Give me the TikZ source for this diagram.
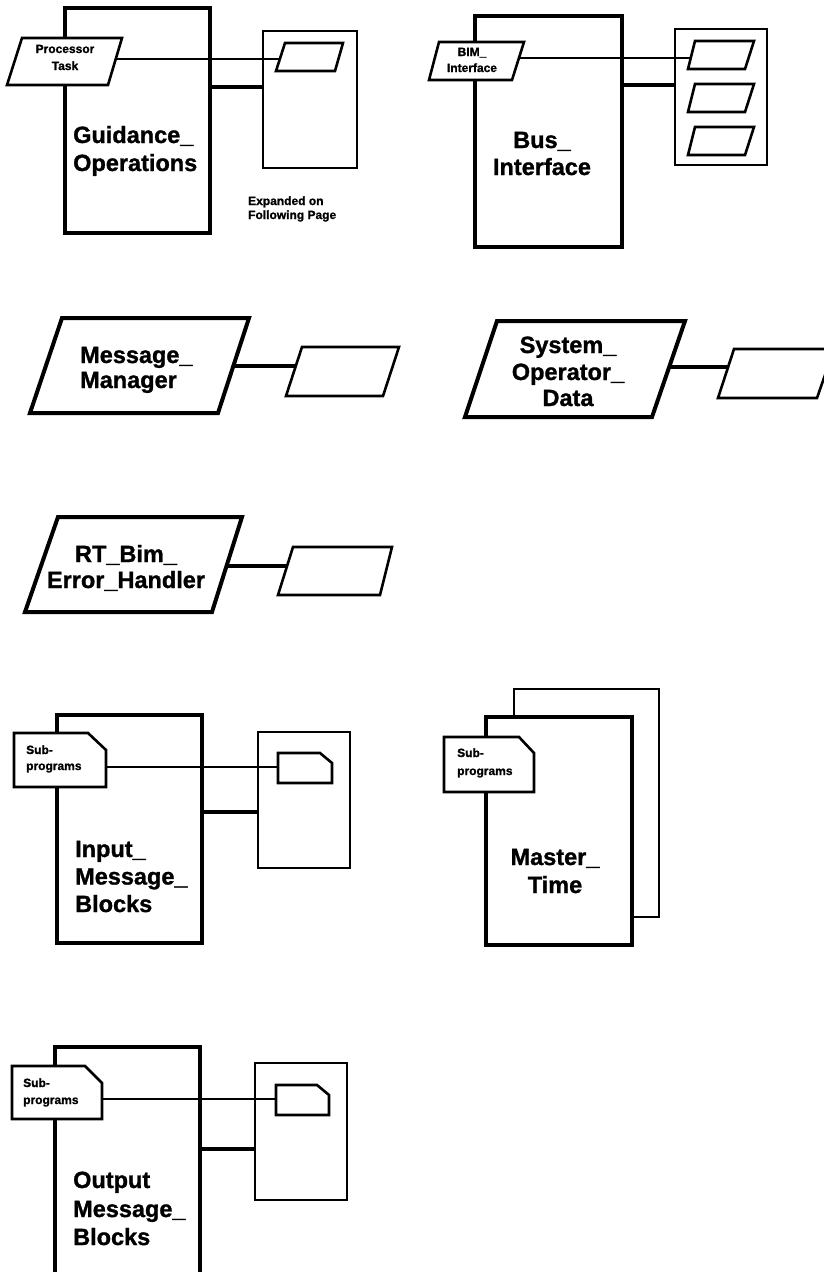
\documentclass[tikz,border=0pt]{standalone}
\usepackage{fontspec}
\setmainfont{Liberation Sans}[BoldFeatures={FakeBold=1.2}]
\begin{document}
\begin{tikzpicture}[x=1pt,y=-1pt,
  bigbox/.style={draw, line width=3.3pt, fill=white},
  subbox/.style={draw, line width=2.6pt, fill=white},
  backpage/.style={draw, line width=2.6pt},
  bigpara/.style={draw, line width=4pt, fill=white},
  smallpara/.style={draw, line width=2.6pt, fill=white},
  tabshape/.style={draw, line width=2.6pt, fill=white},
  thinlink/.style={line width=2.4pt},
  thicklink/.style={line width=3.8pt},
  biglbl/.style={font=\fontsize{23.5}{27}\selectfont\bfseries, inner sep=0pt},
  smalllbl/.style={font=\fontsize{12}{15}\selectfont\bfseries, inner sep=0pt}]
\useasboundingbox (0,0) rectangle (824,1272);
\clip (0,0) rectangle (824,1272);

% ---------- Guidance_Operations ----------
\path[bigbox] (65,8) rectangle (210,233);
\path[subbox] (263,31) rectangle (357,168);
\coordinate (guidE) at (210,87);
\coordinate (gexpW) at (263,87);
\draw[thicklink] (guidE) -- (gexpW);
\path[smallpara] (22,38) -- (122,38) -- (108,85) -- (7,85) -- cycle;
\path[smallpara] (285,43) -- (343,43) -- (335,71) -- (276,71) -- cycle;
\coordinate (ptE) at (116,59);
\coordinate (gparaW) at (280,59);
\draw[thinlink] (ptE) -- (gparaW);
\node[smalllbl, anchor=base] (pt1) at (65,53) {Processor};
\node[smalllbl, anchor=base] (pt2) at (65,70) {Task};
\node[biglbl, anchor=base west] (go1) at (73,143) {Guidance\_};
\node[biglbl, anchor=base west] (go2) at (73,171) {Operations};
\node[smalllbl, anchor=base west] (ex1) at (248,205) {Expanded on};
\node[smalllbl, anchor=base west] (ex2) at (248,219) {Following Page};

% ---------- Bus_Interface ----------
\path[bigbox] (475,16) rectangle (622,247);
\path[subbox] (675,29) rectangle (767,165);
\coordinate (busE) at (622,85);
\coordinate (bexpW) at (675,85);
\draw[thicklink] (busE) -- (bexpW);
\path[smallpara] (439,42) -- (524,42) -- (512,80) -- (429,80) -- cycle;
\path[smallpara] (695,41) -- (754,41) -- (745,69) -- (688,69) -- cycle;
\path[smallpara] (695,84) -- (754,84) -- (745,112) -- (688,112) -- cycle;
\path[smallpara] (695,127) -- (754,127) -- (745,155) -- (688,155) -- cycle;
\coordinate (bimE) at (519,58);
\coordinate (bparaW) at (691,58);
\draw[thinlink] (bimE) -- (bparaW);
\node[smalllbl, anchor=base] (bim1) at (472,56) {BIM\_};
\node[smalllbl, anchor=base] (bim2) at (472,72) {Interface};
\node[biglbl, anchor=base] (bi1) at (542,148) {Bus\_};
\node[biglbl, anchor=base] (bi2) at (542,175) {Interface};

% ---------- Message_Manager ----------
\path[bigpara] (62,318) -- (249,318) -- (218,413) -- (30,413) -- cycle;
\path[smallpara] (302,347) -- (399,347) -- (383,396) -- (286,396) -- cycle;
\coordinate (mmE) at (233,366);
\coordinate (mmpW) at (296,366);
\draw[thicklink] (mmE) -- (mmpW);
\node[biglbl, anchor=base west] (mm1) at (80,363) {Message\_};
\node[biglbl, anchor=base west] (mm2) at (80,388) {Manager};

% ---------- System_Operator_Data ----------
\path[bigpara] (497,321) -- (685,321) -- (652,417) -- (465,417) -- cycle;
\path[smallpara] (734,349) -- (834,349) -- (817,398) -- (718,398) -- cycle;
\coordinate (sodE) at (669,367);
\coordinate (sodpW) at (728,367);
\draw[thicklink] (sodE) -- (sodpW);
\node[biglbl, anchor=base] (sod1) at (568,353) {System\_};
\node[biglbl, anchor=base] (sod2) at (568,380) {Operator\_};
\node[biglbl, anchor=base] (sod3) at (568,406) {Data};

% ---------- RT_Bim_Error_Handler ----------
\path[bigpara] (58,517) -- (242,517) -- (212,612) -- (25,612) -- cycle;
\path[smallpara] (293,547) -- (392,547) -- (380,595) -- (278,595) -- cycle;
\coordinate (rtE) at (227,566);
\coordinate (rtpW) at (287,566);
\draw[thicklink] (rtE) -- (rtpW);
\node[biglbl, anchor=base] (rt1) at (126,562) {RT\_Bim\_};
\node[biglbl, anchor=base] (rt2) at (126,588) {Error\_Handler};

% ---------- Input_Message_Blocks ----------
\path[bigbox] (57,715) rectangle (202,943);
\path[subbox] (258,732) rectangle (350,868);
\coordinate (imbE) at (202,812);
\coordinate (iexpW) at (258,812);
\draw[thicklink] (imbE) -- (iexpW);
\path[tabshape] (14,733) -- (88,733) -- (106,750) -- (106,787) -- (14,787) -- cycle;
\path[tabshape] (278,753) -- (320,753) -- (332,763) -- (332,783) -- (278,783) -- cycle;
\coordinate (isubE) at (106,767);
\coordinate (itabW) at (278,767);
\draw[thinlink] (isubE) -- (itabW);
\node[smalllbl, anchor=base west] (is1) at (26,754) {Sub-};
\node[smalllbl, anchor=base west] (is2) at (26,770) {programs};
\node[biglbl, anchor=base west] (im1) at (75,857) {Input\_};
\node[biglbl, anchor=base west] (im2) at (75,884.5) {Message\_};
\node[biglbl, anchor=base west] (im3) at (75,912) {Blocks};

% ---------- Master_Time ----------
\path[backpage] (514,689) rectangle (659,917);
\path[bigbox] (486,717) rectangle (632,945);
\path[tabshape] (444,737) -- (519,737) -- (534,753) -- (534,792) -- (444,792) -- cycle;
\node[smalllbl, anchor=base west] (ms1) at (457,757) {Sub-};
\node[smalllbl, anchor=base west] (ms2) at (457,775) {programs};
\node[biglbl, anchor=base] (mt1) at (555,865) {Master\_};
\node[biglbl, anchor=base] (mt2) at (555,893) {Time};

% ---------- Output Message_Blocks ----------
\path[bigbox] (55,1047) rectangle (200,1295);
\path[subbox] (255,1063) rectangle (347,1200);
\coordinate (ombE) at (200,1149);
\coordinate (oexpW) at (255,1149);
\draw[thicklink] (ombE) -- (oexpW);
\path[tabshape] (12,1066) -- (85,1066) -- (102,1083) -- (102,1119) -- (12,1119) -- cycle;
\path[tabshape] (276,1085) -- (317,1085) -- (329,1095) -- (329,1115) -- (276,1115) -- cycle;
\coordinate (osubE) at (102,1099);
\coordinate (otabW) at (276,1099);
\draw[thinlink] (osubE) -- (otabW);
\node[smalllbl, anchor=base west] (os1) at (23,1087) {Sub-};
\node[smalllbl, anchor=base west] (os2) at (23,1104) {programs};
\node[biglbl, anchor=base west] (om1) at (73,1188) {Output};
\node[biglbl, anchor=base west] (om2) at (73,1217) {Message\_};
\node[biglbl, anchor=base west] (om3) at (73,1245) {Blocks};
\end{tikzpicture}
\end{document}
